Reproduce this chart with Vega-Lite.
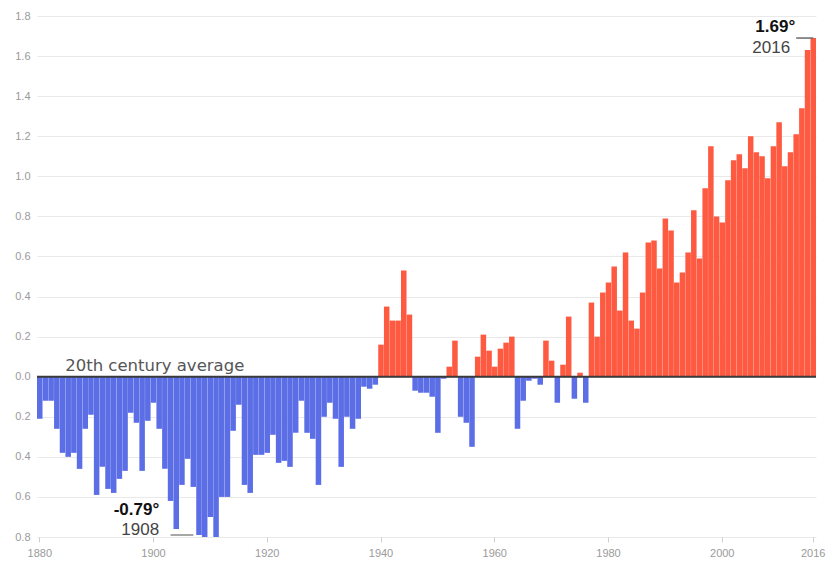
{
  "$schema": "https://vega.github.io/schema/vega-lite/v6.json",
  "width": 779,
  "height": 521,
  "autosize": {"type": "none"},
  "padding": {"left": 37, "top": 16, "right": 12, "bottom": 28},
  "background": "white",
  "config": {
    "view": {"stroke": null},
    "font": "Liberation Sans"
  },
  "datasets": {
    "temps": [
      {"year": 1880, "temp": -0.21}, {"year": 1881, "temp": -0.12}, {"year": 1882, "temp": -0.12}, {"year": 1883, "temp": -0.26},
      {"year": 1884, "temp": -0.38}, {"year": 1885, "temp": -0.40}, {"year": 1886, "temp": -0.38}, {"year": 1887, "temp": -0.46},
      {"year": 1888, "temp": -0.26}, {"year": 1889, "temp": -0.19}, {"year": 1890, "temp": -0.59}, {"year": 1891, "temp": -0.45},
      {"year": 1892, "temp": -0.56}, {"year": 1893, "temp": -0.58}, {"year": 1894, "temp": -0.51}, {"year": 1895, "temp": -0.47},
      {"year": 1896, "temp": -0.18}, {"year": 1897, "temp": -0.23}, {"year": 1898, "temp": -0.47}, {"year": 1899, "temp": -0.22},
      {"year": 1900, "temp": -0.13}, {"year": 1901, "temp": -0.26}, {"year": 1902, "temp": -0.46}, {"year": 1903, "temp": -0.62},
      {"year": 1904, "temp": -0.76}, {"year": 1905, "temp": -0.54}, {"year": 1906, "temp": -0.41}, {"year": 1907, "temp": -0.55},
      {"year": 1908, "temp": -0.79}, {"year": 1909, "temp": -0.80}, {"year": 1910, "temp": -0.70}, {"year": 1911, "temp": -0.80},
      {"year": 1912, "temp": -0.60}, {"year": 1913, "temp": -0.60}, {"year": 1914, "temp": -0.27}, {"year": 1915, "temp": -0.14},
      {"year": 1916, "temp": -0.54}, {"year": 1917, "temp": -0.58}, {"year": 1918, "temp": -0.39}, {"year": 1919, "temp": -0.39},
      {"year": 1920, "temp": -0.38}, {"year": 1921, "temp": -0.29}, {"year": 1922, "temp": -0.43}, {"year": 1923, "temp": -0.42},
      {"year": 1924, "temp": -0.45}, {"year": 1925, "temp": -0.28}, {"year": 1926, "temp": -0.12}, {"year": 1927, "temp": -0.28},
      {"year": 1928, "temp": -0.31}, {"year": 1929, "temp": -0.54}, {"year": 1930, "temp": -0.20}, {"year": 1931, "temp": -0.13},
      {"year": 1932, "temp": -0.21}, {"year": 1933, "temp": -0.45}, {"year": 1934, "temp": -0.20}, {"year": 1935, "temp": -0.26},
      {"year": 1936, "temp": -0.21}, {"year": 1937, "temp": -0.05}, {"year": 1938, "temp": -0.06}, {"year": 1939, "temp": -0.04},
      {"year": 1940, "temp": 0.16}, {"year": 1941, "temp": 0.35}, {"year": 1942, "temp": 0.28}, {"year": 1943, "temp": 0.28},
      {"year": 1944, "temp": 0.53}, {"year": 1945, "temp": 0.31}, {"year": 1946, "temp": -0.07}, {"year": 1947, "temp": -0.08},
      {"year": 1948, "temp": -0.08}, {"year": 1949, "temp": -0.10}, {"year": 1950, "temp": -0.28}, {"year": 1951, "temp": -0.01},
      {"year": 1952, "temp": 0.05}, {"year": 1953, "temp": 0.18}, {"year": 1954, "temp": -0.20}, {"year": 1955, "temp": -0.23},
      {"year": 1956, "temp": -0.35}, {"year": 1957, "temp": 0.10}, {"year": 1958, "temp": 0.21}, {"year": 1959, "temp": 0.13},
      {"year": 1960, "temp": 0.05}, {"year": 1961, "temp": 0.14}, {"year": 1962, "temp": 0.17}, {"year": 1963, "temp": 0.20},
      {"year": 1964, "temp": -0.26}, {"year": 1965, "temp": -0.12}, {"year": 1966, "temp": -0.02}, {"year": 1967, "temp": -0.01},
      {"year": 1968, "temp": -0.04}, {"year": 1969, "temp": 0.18}, {"year": 1970, "temp": 0.08}, {"year": 1971, "temp": -0.13},
      {"year": 1972, "temp": 0.06}, {"year": 1973, "temp": 0.30}, {"year": 1974, "temp": -0.11}, {"year": 1975, "temp": 0.02},
      {"year": 1976, "temp": -0.13}, {"year": 1977, "temp": 0.37}, {"year": 1978, "temp": 0.20}, {"year": 1979, "temp": 0.42},
      {"year": 1980, "temp": 0.47}, {"year": 1981, "temp": 0.55}, {"year": 1982, "temp": 0.33}, {"year": 1983, "temp": 0.62},
      {"year": 1984, "temp": 0.28}, {"year": 1985, "temp": 0.24}, {"year": 1986, "temp": 0.42}, {"year": 1987, "temp": 0.67},
      {"year": 1988, "temp": 0.68}, {"year": 1989, "temp": 0.54}, {"year": 1990, "temp": 0.79}, {"year": 1991, "temp": 0.73},
      {"year": 1992, "temp": 0.47}, {"year": 1993, "temp": 0.52}, {"year": 1994, "temp": 0.62}, {"year": 1995, "temp": 0.83},
      {"year": 1996, "temp": 0.59}, {"year": 1997, "temp": 0.94}, {"year": 1998, "temp": 1.15}, {"year": 1999, "temp": 0.80},
      {"year": 2000, "temp": 0.77}, {"year": 2001, "temp": 0.98}, {"year": 2002, "temp": 1.08}, {"year": 2003, "temp": 1.11},
      {"year": 2004, "temp": 1.04}, {"year": 2005, "temp": 1.20}, {"year": 2006, "temp": 1.12}, {"year": 2007, "temp": 1.10},
      {"year": 2008, "temp": 0.99}, {"year": 2009, "temp": 1.15}, {"year": 2010, "temp": 1.27}, {"year": 2011, "temp": 1.05},
      {"year": 2012, "temp": 1.12}, {"year": 2013, "temp": 1.21}, {"year": 2014, "temp": 1.34}, {"year": 2015, "temp": 1.63},
      {"year": 2016, "temp": 1.69}
    ]
  },
  "layer": [
    {
      "data": {"name": "temps"},
      "mark": {"type": "bar"},
      "encoding": {
        "x": {
          "field": "year", "type": "ordinal",
          "scale": {"paddingInner": 0.03, "paddingOuter": 0},
          "axis": {
            "title": null,
            "values": [1880, 1900, 1920, 1940, 1960, 1980, 2000, 2016],
            "labelAngle": 0,
            "labelColor": "#9a9a9a",
            "labelFontSize": 11,
            "labelPadding": 5,
            "tickColor": "#cfcfcf",
            "tickSize": 5,
            "domain": false,
            "grid": false
          }
        },
        "y": {
          "field": "temp", "type": "quantitative",
          "scale": {"domain": [-0.8, 1.8], "nice": false},
          "axis": {
            "title": null,
            "values": [-0.8, -0.6, -0.4, -0.2, 0, 0.2, 0.4, 0.6, 0.8, 1.0, 1.2, 1.4, 1.6, 1.8],
            "labelExpr": "format(abs(datum.value), '.1f')",
            "labelColor": "#9a9a9a",
            "labelFontSize": 11,
            "labelPadding": 7,
            "ticks": false,
            "domain": false,
            "grid": true,
            "gridColor": "#e9e9e9",
            "gridWidth": 1
          }
        },
        "color": {
          "condition": {"test": "datum.temp < 0", "value": "#5b6ee6"},
          "value": "#fe5a41"
        }
      }
    },
    {
      "data": {"values": [{}]},
      "mark": {"type": "rule", "color": "#3a3a3a", "strokeWidth": 2},
      "encoding": {"y": {"datum": 0, "type": "quantitative"}}
    },
    {
      "data": {"values": [{}]},
      "mark": {"type": "text", "text": "20th century average", "align": "left", "baseline": "bottom", "dy": -3, "dx": -3, "font": "DejaVu Sans", "fontSize": 16.5, "color": "#555555"},
      "encoding": {"x": {"datum": 1885, "type": "ordinal"}, "y": {"datum": 0, "type": "quantitative"}}
    },
    {
      "data": {"values": [{}]},
      "mark": {"type": "rule", "color": "#8a8a8a", "strokeWidth": 1.5},
      "encoding": {"x": {"datum": 1903, "type": "ordinal"}, "x2": {"datum": 1907}, "y": {"datum": -0.79, "type": "quantitative"}}
    },
    {
      "data": {"values": [{}]},
      "mark": {"type": "text", "text": "-0.79°", "align": "right", "baseline": "middle", "fontSize": 17, "fontWeight": "bold", "color": "#111111"},
      "encoding": {"x": {"datum": 1901, "type": "ordinal"}, "y": {"datum": -0.665, "type": "quantitative"}}
    },
    {
      "data": {"values": [{}]},
      "mark": {"type": "text", "text": "1908", "align": "right", "baseline": "middle", "fontSize": 17, "color": "#444444"},
      "encoding": {"x": {"datum": 1901, "type": "ordinal"}, "y": {"datum": -0.765, "type": "quantitative"}}
    },
    {
      "data": {"values": [{}]},
      "mark": {"type": "rule", "color": "#6a6a6a", "strokeWidth": 1.5},
      "encoding": {"x": {"datum": 2013, "type": "ordinal"}, "x2": {"datum": 2016}, "y": {"datum": 1.69, "type": "quantitative"}}
    },
    {
      "data": {"values": [{}]},
      "mark": {"type": "text", "text": "1.69°", "align": "right", "baseline": "middle", "dx": -1, "fontSize": 17, "fontWeight": "bold", "color": "#111111"},
      "encoding": {"x": {"datum": 2013, "type": "ordinal"}, "y": {"datum": 1.745, "type": "quantitative"}}
    },
    {
      "data": {"values": [{}]},
      "mark": {"type": "text", "text": "2016", "align": "right", "baseline": "middle", "dx": -6, "fontSize": 17, "color": "#444444"},
      "encoding": {"x": {"datum": 2013, "type": "ordinal"}, "y": {"datum": 1.64, "type": "quantitative"}}
    }
  ]
}
